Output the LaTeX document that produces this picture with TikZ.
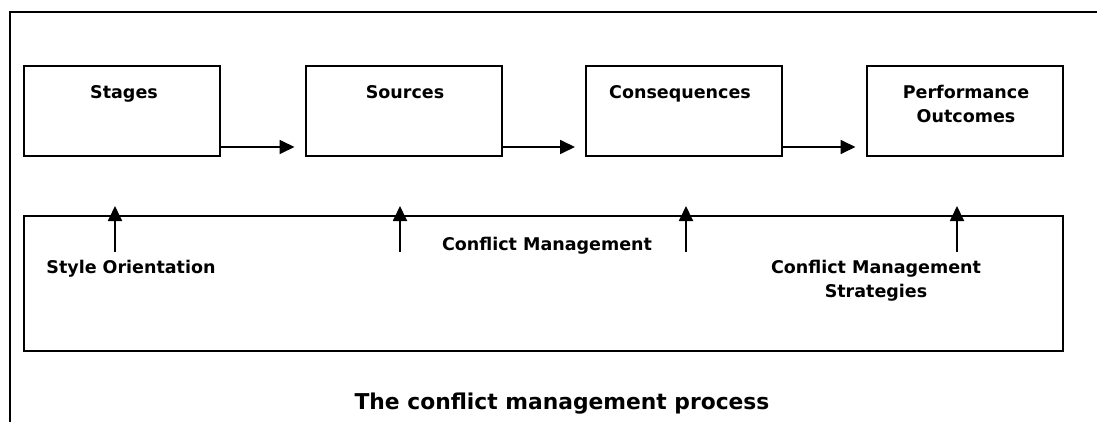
\documentclass[tikz,border=0pt]{standalone}
\usepackage{fontspec}
\setmainfont{DejaVu Sans}
\usetikzlibrary{arrows.meta}

\begin{document}
\begin{tikzpicture}[x=1pt,y=-1pt,join=miter,
    stagebox/.style={draw,line width=2pt,minimum width=196pt,minimum height=90pt,inner sep=0pt},
    txt/.style={font=\fontsize{17.5}{24}\selectfont\bfseries,inner sep=0pt,align=center},
    flow/.style={line width=1.8pt,-{Triangle[length=15pt,width=14pt]}}]
  \useasboundingbox (0,0) rectangle (1097,422);
  % frame along the top and the left side
  \draw[line width=2pt] (10,422) -- (10,12) -- (1097,12);
  % the four stages
  \node[stagebox] (stages) at (122,111) {};
  \node[stagebox] (sources) at (403.5,111) {};
  \node[stagebox] (conseq) at (684,111) {};
  \node[stagebox] (perf) at (964.5,111) {};
  \node[txt,anchor=base] (stagestxt) at (124,99) {Stages};
  \node[txt,anchor=base] (sourcestxt) at (405,99) {Sources};
  \node[txt,anchor=base] (conseqtxt) at (680,99) {Consequences};
  \node[txt,anchor=base] (perftxt) at (966,123) {Performance\\Outcomes};
  % arrows between the stages
  \draw[flow,shorten >=10pt] ([yshift=10pt]stages.south east) -- ([yshift=10pt]sources.south west);
  \draw[flow,shorten >=10pt] ([yshift=10pt]sources.south east) -- ([yshift=10pt]conseq.south west);
  \draw[flow,shorten >=10pt] ([yshift=10pt]conseq.south east) -- ([yshift=10pt]perf.south west);
  % conflict management band
  \node[draw,line width=2pt,minimum width=1039pt,minimum height=135pt,inner sep=0pt] (band) at (543.5,283.5) {};
  \coordinate (tail1) at (115,252);
  \coordinate (tail2) at (400,252);
  \coordinate (tail3) at (686,252);
  \coordinate (tail4) at (957,252);
  \foreach \i in {1,...,4}
    \draw[flow] (tail\i) -- ([yshift=9pt]tail\i |- band.north);
  \node[txt,anchor=base] (style) at (131,273) {Style Orientation};
  \node[txt,anchor=base] (cm) at (547,250) {Conflict Management};
  \node[txt,anchor=base] (strat) at (876,297) {Conflict Management\\Strategies};
  % caption
  \node[font=\fontsize{21.8}{26}\selectfont\bfseries,inner sep=0pt,anchor=base] (title) at (562,409) {The conflict management process};
\end{tikzpicture}
\end{document}
